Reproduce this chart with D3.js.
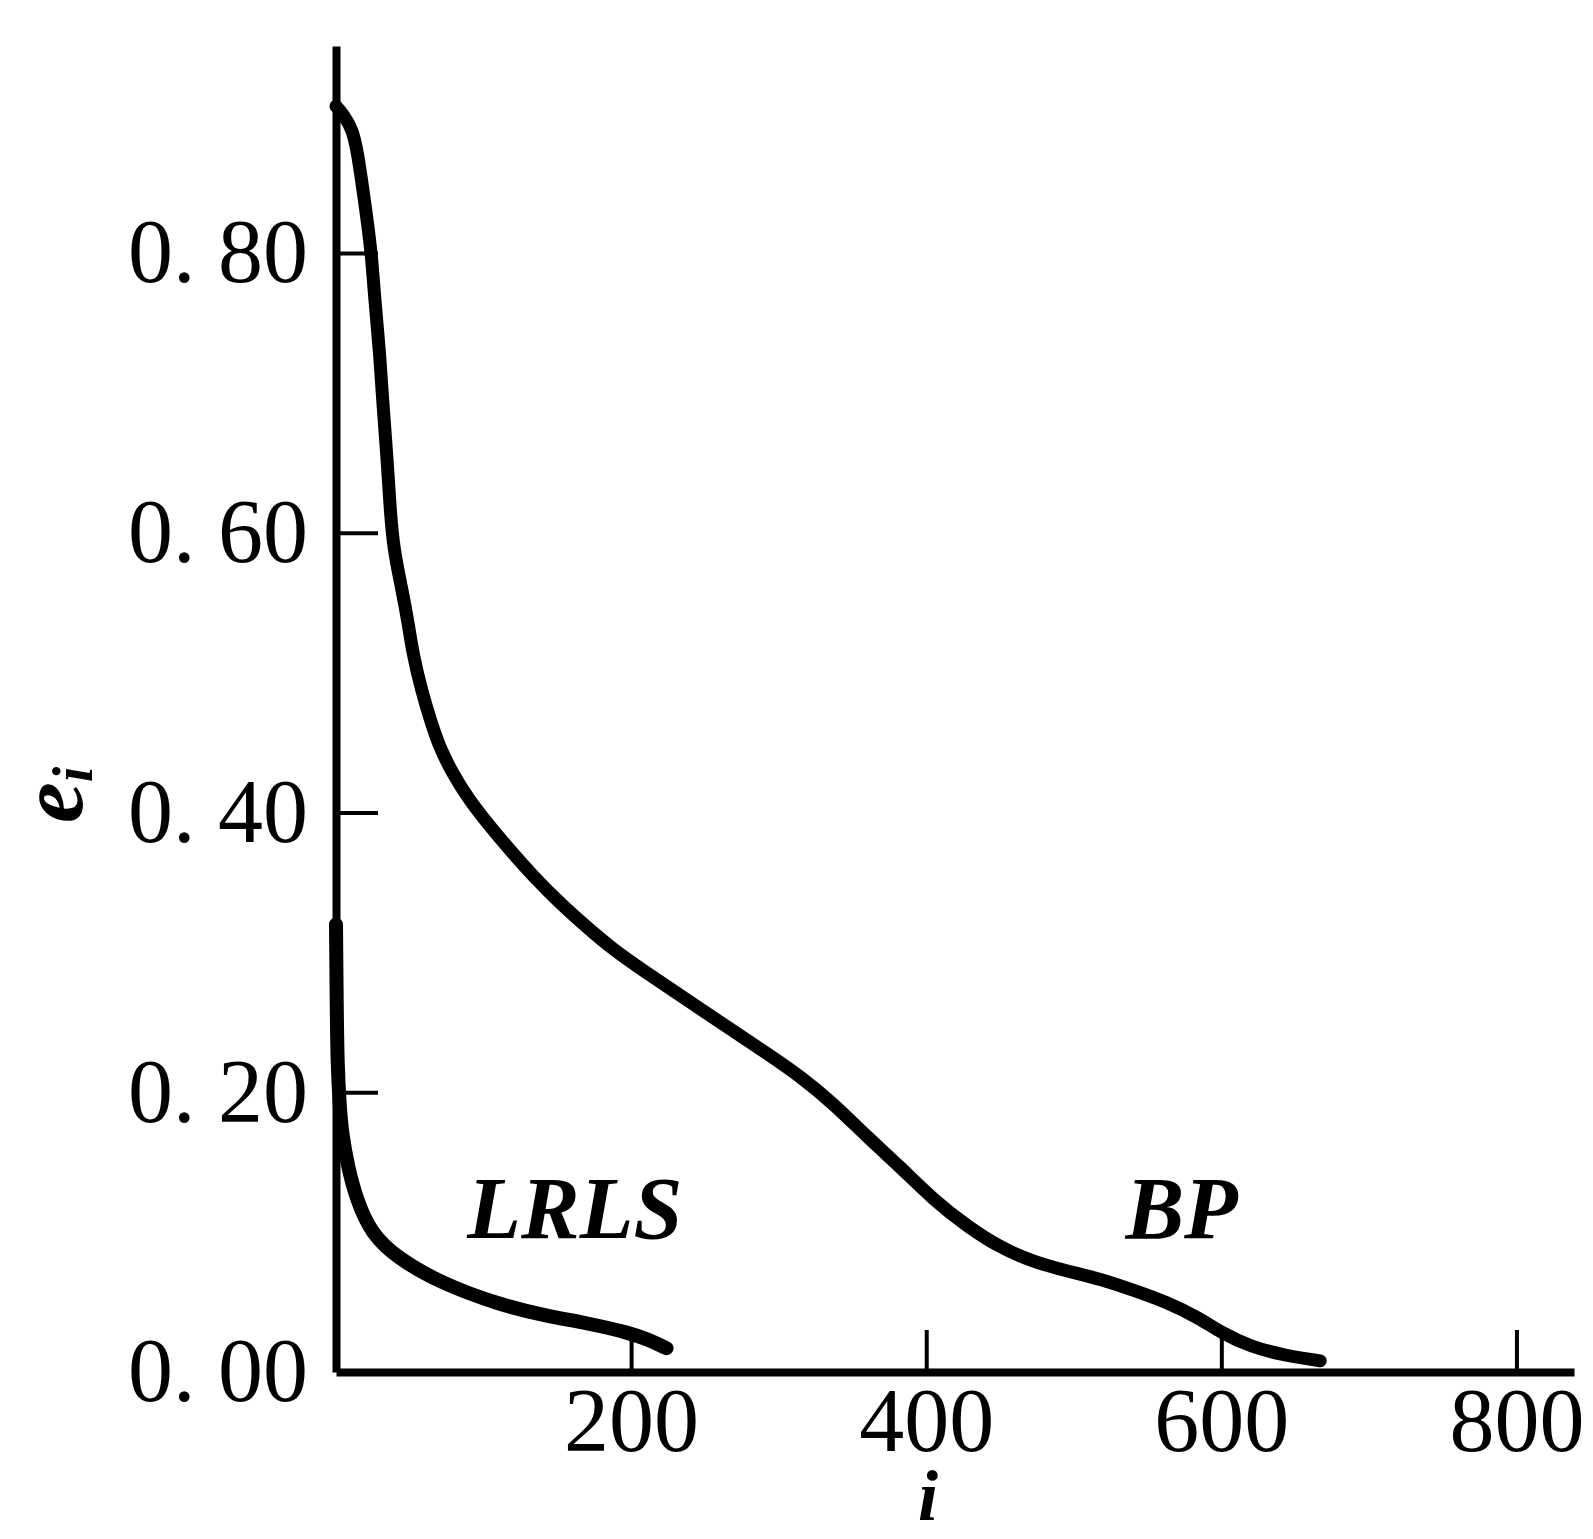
<!DOCTYPE html>
<html lang="en">
<head>
  <meta charset="UTF-8">
  <script src="https://d3js.org/d3.v7.min.js"></script>
  <style>
    body {
      margin: 0;
      background: #ffffff;
      font-family: "Liberation Serif", serif;
    }
    svg {
      display: block;
      overflow: hidden;
    }
    .curve {
      fill: none;
      stroke: #000;
      stroke-linejoin: round;
      stroke-linecap: round;
    }
    .tick text {
      font-family: "Liberation Serif", serif;
      font-size: 90px;
      fill: #000;
    }
    .tick line {
      stroke: #000;
      stroke-width: 4px;
    }
    .domain {
      stroke: #000;
      stroke-width: 8px;
    }
    .series-label, .axis-label {
      font-family: "Liberation Serif", serif;
      font-style: italic;
      font-weight: bold;
      fill: #000;
    }
  </style>
</head>
<body>
  <div id="chart"></div>
  <script>
    // values: [i, e_i]
    const bpCurve = [
      [0, 0.905], [5, 0.899], [11.5, 0.888], [15, 0.869], [18.3, 0.845], [21.7, 0.819],
      [24.4, 0.795], [26.4, 0.765], [29.8, 0.726], [31.9, 0.690], [34.6, 0.654], [36.6, 0.618],
      [39, 0.588], [45, 0.558], [49, 0.535], [52, 0.514], [58, 0.487], [64, 0.466],
      [70, 0.447], [79, 0.428], [89, 0.411], [102, 0.393], [118, 0.373], [134, 0.354],
      [152, 0.335], [170, 0.318], [188, 0.302], [204, 0.290], [254, 0.2545], [296, 0.225],
      [315, 0.211], [337, 0.192], [360, 0.168], [382, 0.147], [405, 0.123], [428, 0.104],
      [450, 0.089], [472, 0.079], [496, 0.072], [518, 0.0665], [540, 0.0586], [563, 0.050],
      [586, 0.038], [599, 0.0286], [620, 0.018], [642, 0.012], [667, 0.008]
    ];
    const lrlsCurve = [
      [0, 0.32], [0.5, 0.26], [1, 0.22], [2.5, 0.19], [4, 0.171], [8, 0.147], [14, 0.123],
      [24, 0.099], [41, 0.082], [70, 0.064], [111, 0.048], [143, 0.040], [170, 0.035],
      [199, 0.028], [212, 0.023], [224, 0.017]
    ];
    const seriesNames = ["LRLS", "BP"];
    const xTicks = [200, 400, 600, 800];
    const yTicks = [0, 0.2, 0.4, 0.6, 0.8];

    const width = 1593;
    const height = 1539;

    const svg = d3.select("#chart")
      .append("svg")
      .attr("width", width)
      .attr("height", height);

    const x = d3.scaleLinear().domain([0, 839]).range([336, 1574]);
    const y = d3.scaleLinear().domain([0, 0.948]).range([1372, 46]);

    // x axis, ticks point up into the plot
    svg.append("g")
      .attr("transform", `translate(0,${y(0)})`)
      .call(d3.axisBottom(x)
        .tickValues(xTicks)
        .tickSizeInner(-42)
        .tickSizeOuter(0)
        .tickPadding(15)
        .tickFormat(d3.format("d")));

    // y axis, ticks point right
    svg.append("g")
      .attr("transform", `translate(${x(0)},0)`)
      .call(d3.axisLeft(y)
        .tickValues(yTicks)
        .tickSizeInner(-42)
        .tickSizeOuter(0)
        .tickPadding(28)
        .tickFormat(d => d3.format(".2f")(d).replace(".", ". ")))
      .call(g => g.selectAll(".tick").filter(d => d === 0).select("line").remove());

    svg.selectAll(".tick text").attr("font-size", null).attr("font-family", null);

    const line = d3.line()
      .x(d => x(d[0]))
      .y(d => y(d[1]))
      .curve(d3.curveBasis);

    svg.append("path")
      .datum(bpCurve)
      .attr("class", "curve")
      .attr("stroke-width", 13)
      .attr("d", line);

    svg.append("path")
      .datum(lrlsCurve)
      .attr("class", "curve")
      .attr("stroke-width", 14)
      .attr("d", line);

    // curve names
    svg.append("text")
      .attr("class", "series-label")
      .attr("x", x(89))
      .attr("y", y(0.096))
      .attr("font-size", 88)
      .text(seriesNames[0]);

    svg.append("text")
      .attr("class", "series-label")
      .attr("x", x(535))
      .attr("y", y(0.096))
      .attr("font-size", 88)
      .text(seriesNames[1]);

    // axis titles
    const yTitle = svg.append("text")
      .attr("class", "axis-label")
      .attr("transform", "translate(82,823) rotate(-90)")
      .attr("font-size", 92);
    yTitle.append("tspan").text("e");
    yTitle.append("tspan").attr("font-size", 56).attr("dy", 10).text("i");

    svg.append("text")
      .attr("class", "axis-label")
      .attr("x", 928)
      .attr("y", 1520)
      .attr("text-anchor", "middle")
      .attr("font-size", 72)
      .text("i");
  </script>
</body>
</html>
